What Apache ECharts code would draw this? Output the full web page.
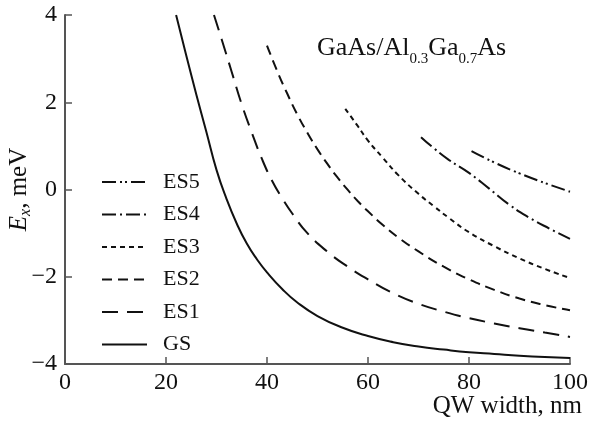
<!DOCTYPE html>
<html>
<head>
<meta charset="utf-8">
<script src="https://cdn.jsdelivr.net/npm/echarts@6/dist/echarts.min.js"></script>
<style>
  html, body { margin: 0; padding: 0; background: #fff; }
  #chart { width: 592px; height: 426px; }
</style>
</head>
<body>
<div id="chart"></div>
<script>
// 数据：量子阱宽度 (nm) 和激子能量 (meV)
const xTicks = [0, 20, 40, 60, 80, 100];
const yTicks = [-4, -2, 0, 2, 4];

const gsWidth = [22, 24, 26, 28, 30, 32, 34, 36, 38, 40, 43, 46, 50, 55, 60, 65, 70, 75, 80, 85, 90, 95, 100];
const gsE = [4.0, 3.08, 2.18, 1.32, 0.45, -0.22, -0.78, -1.24, -1.6, -1.9, -2.28, -2.59, -2.9, -3.17, -3.36, -3.5, -3.6, -3.67, -3.73, -3.77, -3.81, -3.84, -3.86];

const es1Width = [29.5, 31, 33, 35, 37, 39, 41, 43, 45, 48, 52, 56, 60, 65, 70, 75, 80, 85, 90, 95, 100];
const es1E = [4.0, 3.45, 2.7, 1.95, 1.3, 0.7, 0.2, -0.2, -0.55, -1.0, -1.43, -1.77, -2.06, -2.38, -2.62, -2.8, -2.95, -3.07, -3.18, -3.28, -3.38];

const es2Width = [40, 42, 44, 46, 48, 50, 52, 54, 56, 58, 60, 63, 66, 70, 75, 80, 85, 90, 95, 100];
const es2E = [3.3, 2.72, 2.2, 1.72, 1.3, 0.92, 0.58, 0.27, -0.01, -0.27, -0.5, -0.82, -1.1, -1.42, -1.77, -2.06, -2.3, -2.5, -2.65, -2.77];

const es3Width = [55.5, 58, 60, 63, 66, 70, 73, 76, 80, 85, 90, 95, 100];
const es3E = [1.85, 1.45, 1.12, 0.72, 0.33, -0.1, -0.38, -0.65, -0.98, -1.3, -1.58, -1.82, -2.03];

const es4Width = [70.5, 73, 76, 80, 84, 88, 92, 96, 100];
const es4E = [1.2, 0.95, 0.68, 0.38, 0.02, -0.35, -0.65, -0.9, -1.13];

const es5Width = [80.5, 85, 90, 95, 100];
const es5E = [0.88, 0.62, 0.37, 0.15, -0.05];

const legendOrder = ['ES5', 'ES4', 'ES3', 'ES2', 'ES1', 'GS'];

function pairs(xs, ys) {
  return xs.map((x, i) => [x, ys[i]]);
}

const serif = 'Liberation Serif';
const axisColor = '#555';

function lineSeries(name, xs, ys, dash) {
  return {
    name: name,
    type: 'line',
    data: pairs(xs, ys),
    symbol: 'none',
    showSymbol: false,
    smooth: 0.5,
    lineStyle: {
      color: '#111',
      width: 2,
      type: dash
    },
    itemStyle: { color: '#111' }
  };
}

const chart = echarts.init(document.getElementById('chart'), null, { renderer: 'canvas' });

const option = {
  animation: false,
  backgroundColor: '#fff',
  textStyle: { fontFamily: serif },
  grid: {
    left: 65,
    right: 22,
    top: 15,
    bottom: 62,
    containLabel: false,
    outerBoundsMode: 'none'
  },
  title: {
    text: '{m|GaAs/Al}{s|0.3}{m|Ga}{s|0.7}{m|As}',
    left: 317,
    top: 29,
    padding: 0,
    textStyle: {
      fontWeight: 'normal',
      rich: {
        m: { fontFamily: serif, fontSize: 26, fontWeight: 'normal', lineHeight: 38, color: '#111', verticalAlign: 'middle' },
        s: { fontFamily: serif, fontSize: 15, fontWeight: 'normal', lineHeight: 15, color: '#111', verticalAlign: 'bottom' }
      }
    }
  },
  legend: {
    orient: 'vertical',
    left: 96,
    top: 166,
    data: legendOrder,
    itemWidth: 45,
    itemHeight: 20,
    itemGap: 10.5,
    itemStyle: { opacity: 0 },
    textStyle: {
      fontFamily: serif,
      fontSize: 22,
      lineHeight: 22,
      color: '#111',
      padding: [0, 0, 0, 11]
    }
  },
  xAxis: {
    type: 'value',
    min: 0,
    max: 100,
    interval: 20,
    name: 'QW width, nm',
    nameLocation: 'end',
    nameGap: 12,
    nameMoveOverlap: false,
    nameTextStyle: {
      fontFamily: serif,
      fontSize: 25,
      color: '#111',
      align: 'right',
      verticalAlign: 'top',
      padding: [30, 0, 0, 0]
    },
    axisLine: { show: true, onZero: false, lineStyle: { color: axisColor, width: 2 } },
    axisTick: { show: true, inside: true, length: 7, lineStyle: { color: axisColor, width: 1.5 } },
    axisLabel: {
      fontFamily: serif,
      fontSize: 24,
      color: '#111',
      margin: 7,
      customValues: xTicks
    },
    splitLine: { show: false }
  },
  yAxis: {
    type: 'value',
    min: -4,
    max: 4,
    interval: 2,
    name: '{e|E}{x|x}{n|, meV}',
    nameLocation: 'middle',
    nameGap: 31,
    nameRotate: 90,
    nameMoveOverlap: false,
    nameTextStyle: {
      rich: {
        e: { fontFamily: serif, fontSize: 25, fontStyle: 'italic', color: '#111', lineHeight: 30 },
        x: { fontFamily: serif, fontSize: 16, fontStyle: 'italic', color: '#111', lineHeight: 14, verticalAlign: 'bottom' },
        n: { fontFamily: serif, fontSize: 25, color: '#111', lineHeight: 30 }
      }
    },
    axisLine: { show: true, onZero: false, lineStyle: { color: axisColor, width: 2 } },
    axisTick: { show: true, inside: true, length: 7, lineStyle: { color: axisColor, width: 1.5 } },
    axisLabel: {
      fontFamily: serif,
      fontSize: 24,
      color: '#111',
      margin: 8,
      customValues: yTicks,
      formatter: function (v) {
        return v < 0 ? '\u2212' + Math.abs(v) : String(v);
      }
    },
    splitLine: { show: false }
  },
  series: [
    lineSeries('GS', gsWidth, gsE, 'solid'),
    lineSeries('ES1', es1Width, es1E, [16, 9]),
    lineSeries('ES2', es2Width, es2E, [10, 6]),
    lineSeries('ES3', es3Width, es3E, [5, 4]),
    lineSeries('ES4', es4Width, es4E, [14, 4, 2, 4]),
    lineSeries('ES5', es5Width, es5E, [14, 4, 2, 3, 2, 4])
  ]
};

chart.setOption(option);
</script>
</body>
</html>
